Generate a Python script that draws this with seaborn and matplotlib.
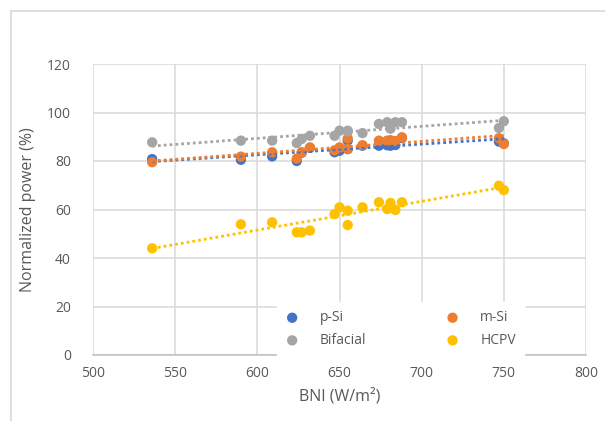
import numpy as np
import pandas as pd
import matplotlib
matplotlib.use("Agg")
import matplotlib.pyplot as plt
from matplotlib.lines import Line2D
import seaborn as sns

# values
bni = [536, 590, 609, 624, 627, 632, 647, 650, 655, 655, 664, 674, 679, 681, 684, 688, 747, 750]
p_si = [80.8, 80.5, 81.9, 80.0, 83.4, 85.4, 83.6, 84.2, 88.4, 84.9, 86.3, 86.3, 86.5, 86.3, 86.6, 89.5, 88.0, 87.3]
m_si = [79.5, 81.8, 83.6, 81.0, 83.6, 85.6, 84.4, 85.6, 89.3, 85.0, 86.5, 88.4, 88.4, 88.6, 88.2, 89.8, 89.4, 87.0]
bifacial = [87.7, 88.4, 88.4, 87.4, 89.1, 90.4, 90.4, 92.5, 92.5, 92.2, 91.5, 95.3, 96.0, 93.3, 96.0, 96.0, 93.6, 96.4]
hcpv = [44.0, 53.9, 54.7, 50.6, 50.6, 51.3, 58.1, 60.9, 53.6, 59.5, 60.9, 63.0, 60.2, 62.7, 59.8, 63.0, 69.8, 68.0]

series = ["p-Si", "m-Si", "Bifacial", "HCPV"]
colors = {"p-Si": "#4472C4", "m-Si": "#ED7D31", "Bifacial": "#A5A5A5", "HCPV": "#FFC000"}

df = pd.concat([
    pd.DataFrame({"BNI": bni, "power": vals, "series": name})
    for name, vals in zip(series, [p_si, m_si, bifacial, hcpv])
], ignore_index=True)

sns.set_style("white")
plt.rcParams["font.family"] = ["Open Sans", "DejaVu Sans"]

fig = plt.figure(figsize=(6.05, 4.21), dpi=100)
ax = fig.add_axes([93 / 605, 1 - 355 / 421, 493 / 605, 291 / 421])

for name in series:
    sub = df[df["series"] == name]
    sns.scatterplot(data=sub, x="BNI", y="power", color=colors[name], s=55,
                    edgecolor="none", ax=ax, label=name, zorder=3)
for name in series:
    sub = df[df["series"] == name]
    sns.regplot(data=sub, x="BNI", y="power", scatter=False, ci=None, ax=ax,
                color=colors[name],
                line_kws={"linestyle": (0, (1, 1.1)), "linewidth": 2, "zorder": 4})

ax.set_xlim(500, 800)
ax.set_ylim(0, 120)
ax.set_xticks(range(500, 801, 50))
ax.set_yticks(range(0, 121, 20))
ax.grid(True, color="#D9D9D9", linewidth=1.1)
ax.set_axisbelow(True)
for s in ["top", "right", "left"]:
    ax.spines[s].set_visible(False)
ax.spines["bottom"].set_color("#BFBFBF")
ax.spines["bottom"].set_linewidth(1.1)
ax.tick_params(axis="both", length=0, labelsize=10, labelcolor="#595959")
ax.tick_params(axis="y", pad=16)
ax.tick_params(axis="x", pad=8)
ax.set_xlabel("BNI (W/m²)", fontsize=11.5, color="#595959", labelpad=5)
ax.set_ylabel("Normalized power (%)", fontsize=11.5, color="#595959", labelpad=8)

handles, labels = ax.get_legend_handles_labels()
order = [0, 2, 1, 3]
leg = ax.legend([handles[i] for i in order], [labels[i] for i in order],
                ncol=2, loc="upper left", bbox_to_anchor=(0.373, 0.182),
                frameon=True, fancybox=False, framealpha=1,
                edgecolor="white", facecolor="white", fontsize=10,
                handlelength=1.0, handletextpad=1.5, columnspacing=5.7,
                labelspacing=0.55, borderpad=0.6, borderaxespad=0)
for t in leg.get_texts():
    t.set_color("#595959")

# thin outer border like the source chart
fig.add_artist(Line2D([11 / 605, 11 / 605], [0, 1 - 11 / 421], color="#D9D9D9", lw=1.2))
fig.add_artist(Line2D([11 / 605, 1], [1 - 11 / 421, 1 - 11 / 421], color="#D9D9D9", lw=1.2))

fig.savefig("out.png", dpi=100)
